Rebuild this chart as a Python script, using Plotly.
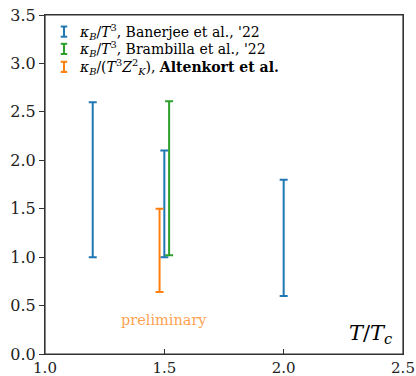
import plotly.graph_objects as go

# Data
banerjee_T = [1.2, 1.5, 2.0]
banerjee_lo = [1.0, 1.0, 0.6]
banerjee_hi = [2.6, 2.1, 1.8]

brambilla_T = [1.52]
brambilla_lo = [1.02]
brambilla_hi = [2.61]

altenkort_T = [1.48]
altenkort_lo = [0.64]
altenkort_hi = [1.5]

x_ticks = [1.0, 1.5, 2.0, 2.5]
y_ticks = [0.0, 0.5, 1.0, 1.5, 2.0, 2.5, 3.0, 3.5]

BLUE = "#1f77b4"
GREEN = "#2ca02c"
ORANGE = "#ff7f0e"
FONT = "DejaVu Serif"

series = [
    ("Banerjee", banerjee_T, banerjee_lo, banerjee_hi, BLUE,
     "<i>κ<sub>B</sub></i>/<i>T</i><sup>3</sup>, Banerjee et al., '22"),
    ("Brambilla", brambilla_T, brambilla_lo, brambilla_hi, GREEN,
     "<i>κ<sub>B</sub></i>/<i>T</i><sup>3</sup>, Brambilla et al., '22"),
    ("Altenkort", altenkort_T, altenkort_lo, altenkort_hi, ORANGE,
     "<i>κ<sub>B</sub></i>/(<i>T</i><sup>3</sup><i>Z</i><sup>2</sup><sub><i>K</i></sub>), <b>Altenkort et al.</b>"),
]

fig = go.Figure()
for name, xs, lo, hi, color, _ in series:
    mid = [(a + b) / 2 for a, b in zip(lo, hi)]
    half = [(b - a) / 2 for a, b in zip(lo, hi)]
    fig.add_trace(go.Scatter(
        x=xs, y=mid, mode="markers", name=name,
        marker=dict(size=1, color=color, opacity=0),
        error_y=dict(type="data", array=half, visible=True,
                     color=color, thickness=2, width=4),
        showlegend=False, hoverinfo="skip",
    ))

# Frame box around the plotting area
fig.add_shape(type="rect", xref="paper", yref="paper", x0=0, x1=1, y0=0, y1=1,
              line=dict(color="#333333", width=1.2), layer="above")

# Manual legend (paper coordinates)
rows_y = [0.951, 0.900, 0.847]
icon_x = 0.053
icon_h = 0.015
cap = 0.009
for (name, xs, lo, hi, color, label), ry in zip(series, rows_y):
    fig.add_shape(type="line", xref="paper", yref="paper",
                  x0=icon_x, x1=icon_x, y0=ry - icon_h, y1=ry + icon_h,
                  line=dict(color=color, width=2))
    for yy in (ry - icon_h, ry + icon_h):
        fig.add_shape(type="line", xref="paper", yref="paper",
                      x0=icon_x - cap, x1=icon_x + cap, y0=yy, y1=yy,
                      line=dict(color=color, width=2))
    fig.add_annotation(xref="paper", yref="paper", x=0.089, y=ry,
                       xanchor="left", yanchor="middle", showarrow=False,
                       text=label, font=dict(family=FONT, size=14, color="black"))

fig.add_annotation(x=1.5, y=0.35, xref="x", yref="y", showarrow=False,
                   text="preliminary",
                   font=dict(family=FONT, size=14.5, color="rgba(255,127,14,0.75)"))
fig.add_annotation(xref="paper", yref="paper", x=0.976, y=0.06,
                   xanchor="right", yanchor="middle", showarrow=False,
                   text="<i>T</i>/<i>T<sub>c</sub></i>",
                   font=dict(family=FONT, size=21, color="black"))

axis_common = dict(showgrid=False, zeroline=False, showline=True,
                   linecolor="#333333", linewidth=1.2, mirror=True,
                   tickcolor="#333333", ticklen=5, tickwidth=1.2,
                   automargin=False)

fig.update_layout(
    width=416, height=376,
    margin=dict(l=45, r=13, t=15, b=22, autoexpand=False),
    paper_bgcolor="white", plot_bgcolor="white",
    font=dict(family=FONT),
    xaxis=dict(range=[1.0, 2.5], tickvals=x_ticks,
               ticktext=[f"{v:.1f}" for v in x_ticks],
               ticks="inside",
               tickfont=dict(family=FONT, size=15, color="#222222"),
               **axis_common),
    yaxis=dict(range=[0.0, 3.5], tickvals=y_ticks,
               ticktext=[f"{v:.1f}" for v in y_ticks],
               ticks="outside",
               tickfont=dict(family=FONT, size=16, color="#222222"),
               **axis_common),
)

fig.write_html("out.html", config={"displayModeBar": False},
               post_script="document.body.style.margin='0';document.body.style.padding='0';")
